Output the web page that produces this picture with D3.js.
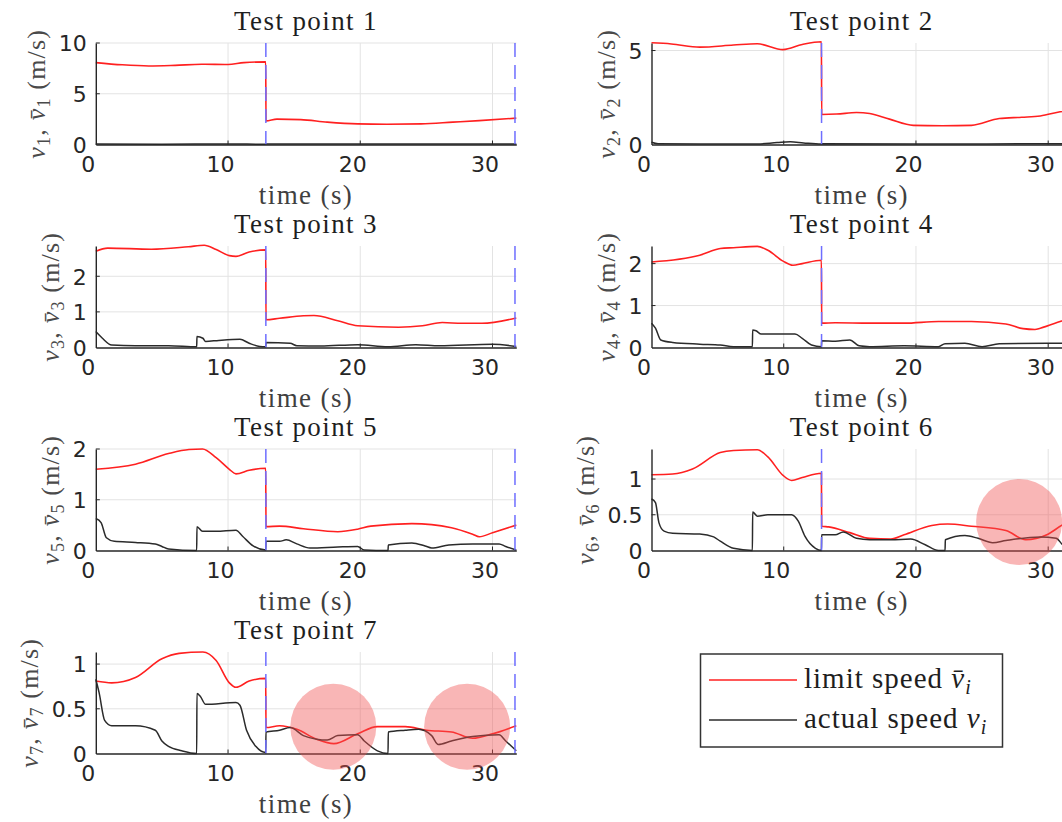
<!DOCTYPE html>
<html>
<head>
<meta charset="utf-8">
<script src="https://cdn.jsdelivr.net/npm/d3@7"></script>
<style>
  body { margin: 0; background: #fff; }
  svg { display: block; }
</style>
</head>
<body>
<svg id="fig" width="1062" height="822"></svg>
<script>
// ---- data -------------------------------------------------------------
const timeTicks = [0, 10, 20, 30];
const timeEnd = 31.8;
const switchTimes = [12.86, 31.7];

const panelTitles = ["Test point 1", "Test point 2", "Test point 3", "Test point 4",
                     "Test point 5", "Test point 6", "Test point 7"];
const panelIndex = ["1", "2", "3", "4", "5", "6", "7"];
const yMax = [10, 5.4, 2.85, 2.42, 2.0, 1.42, 1.135];

const yTicks1 = [0, 5, 10];
const yTicks2 = [0, 5];
const yTicks3 = [0, 1, 2];
const yTicks4 = [0, 1, 2];
const yTicks5 = [0, 1, 2];
const yTicks6 = [0, 0.5, 1];
const yTicks7 = [0, 0.5, 1];

// limit speed (red) and actual speed (black) as [time, speed] pairs
const limit1 = [[0,8.07],[2,7.85],[4,7.74],[6,7.8],[8,7.9],[10,7.88],[11.2,8.07],[12.85,8.14],
  [12.87,2.33],[13.7,2.5],[15.5,2.45],[17.5,2.2],[19.8,2.03],[22,2.0],[24.6,2.03],[27,2.2],[29,2.35],[31.8,2.6]];
const actual1 = [[0,0.05],[5,0.03],[10,0.05],[12.85,0.03],[12.87,0.05],[20,0.04],[31.8,0.05]];

const limit2 = [[0,5.41],[1.5,5.35],[3.65,5.18],[6.2,5.29],[8.0,5.36],[9.95,5.05],[11.4,5.32],[12.85,5.47],
  [12.87,1.6],[14,1.62],[15.5,1.7],[16.5,1.65],[18,1.35],[19.8,1.02],[22,1.0],[24.2,1.02],[26.3,1.38],
  [28,1.45],[29.4,1.52],[30.9,1.74],[31.8,1.85]];
const actual2 = [[0,0.12],[0.5,0.04],[5,0.02],[8,0.03],[9.5,0.1],[10.5,0.14],[11.5,0.08],[12.85,0.02],
  [12.87,0.04],[20,0.03],[31.8,0.04]];

const limit3 = [[0,2.70],[0.9,2.79],[4.2,2.76],[7.0,2.83],[8.2,2.87],[9.1,2.75],[10.1,2.58],[10.6,2.56],
  [11.6,2.68],[12.85,2.74],[12.87,0.78],[13.9,0.82],[15.7,0.89],[16.5,0.9],[18.3,0.75],[19.8,0.61],
  [22.9,0.57],[24.7,0.61],[26.2,0.70],[27.7,0.68],[29.2,0.68],[31.8,0.83]];
const actual3 = [[0,0.45],[0.5,0.26],[1.2,0.07],[3,0.05],[5.5,0.05],[7.63,0.02],[7.65,0.31],[8.1,0.26],
  [8.3,0.17],[9.3,0.2],[10.9,0.23],[11.6,0.12],[12.4,0.03],[12.85,0.02],[12.87,0.14],[14.7,0.12],
  [15.2,0.05],[17,0.04],[19.8,0.08],[22.1,0.02],[24.2,0.08],[26,0.05],[30,0.09],[31.8,0.03]];

const limit4 = [[0,2.04],[3.65,2.20],[5.2,2.36],[6.2,2.38],[8.0,2.41],[8.8,2.32],[9.95,2.06],[10.7,1.96],
  [11.4,2.0],[12.85,2.08],[12.87,0.58],[13.9,0.59],[16.5,0.58],[19.1,0.58],[21.7,0.62],[24.2,0.62],
  [26.8,0.56],[28.1,0.45],[29.0,0.43],[29.4,0.46],[30.9,0.62],[31.8,0.72]];
const actual4 = [[0,0.58],[0.3,0.46],[0.7,0.18],[1.6,0.12],[3.65,0.08],[5.2,0.06],[6.2,0.02],[7.63,0.02],
  [7.65,0.42],[7.9,0.40],[8.3,0.32],[9.3,0.32],[10.85,0.32],[11.4,0.22],[12.1,0.06],[12.85,0.02],
  [12.87,0.16],[13.9,0.15],[15,0.18],[15.7,0.04],[16.5,0.02],[19.1,0.04],[21.7,0.02],[22.2,0.09],
  [23.7,0.1],[25,0.02],[26.3,0.09],[29.9,0.1],[31.8,0.1]];

const limit5 = [[0,1.6],[3,1.7],[5.5,1.91],[7.05,1.99],[8.07,2.0],[9.1,1.83],[10.1,1.6],[10.6,1.51],
  [11.6,1.58],[12.85,1.62],[12.87,0.47],[13.9,0.48],[15.7,0.43],[18.3,0.37],[19.8,0.42],[20.8,0.48],
  [23.9,0.53],[26.9,0.45],[28.5,0.32],[29,0.27],[30,0.35],[31.8,0.50]];
const actual5 = [[0,0.63],[0.4,0.55],[0.8,0.25],[1.4,0.18],[3,0.16],[4.5,0.13],[5,0.08],[5.5,0.03],
  [7.63,0],[7.65,0.47],[8.07,0.38],[9.1,0.38],[10.6,0.40],[11.1,0.28],[11.9,0.09],[12.85,0.01],
  [12.87,0.18],[13.9,0.18],[14.4,0.21],[15.2,0.13],[16.2,0.05],[18.3,0.07],[19.8,0.08],[20.3,0.01],
  [22.1,0],[22.12,0.11],[23.9,0.15],[24.9,0.09],[25.4,0.05],[26.7,0.11],[28.5,0.13],[30.5,0.13],
  [31,0.08],[31.8,0.01]];

const limit6 = [[0,1.06],[1.6,1.07],[3.1,1.14],[5.2,1.37],[6.2,1.40],[8.0,1.41],[8.8,1.31],[9.95,1.05],
  [10.6,0.98],[11.4,1.02],[12.85,1.08],[12.87,0.34],[13.4,0.33],[15.0,0.25],[16.5,0.17],[18.1,0.16],
  [19.1,0.22],[21.2,0.35],[22.4,0.37],[24.2,0.34],[26.8,0.28],[28.3,0.15],[29.9,0.22],[31.1,0.36],[31.8,0.42]];
const actual6 = [[0,0.72],[0.3,0.67],[0.56,0.39],[0.95,0.27],[1.6,0.24],[3.65,0.23],[4.7,0.19],[5.2,0.13],
  [6.2,0.03],[7.63,0],[7.65,0.54],[8.0,0.48],[8.8,0.50],[10.6,0.50],[11.1,0.41],[11.6,0.20],[12.4,0.03],
  [12.85,0],[12.87,0.22],[13.9,0.22],[14.5,0.26],[15.5,0.17],[16.5,0.15],[18.1,0.15],[19.6,0.16],
  [20.7,0.08],[21.7,0],[22.2,0],[22.22,0.15],[23.7,0.21],[24.7,0.17],[25.8,0.11],[26.8,0.14],
  [29.4,0.19],[30.6,0.17],[31.1,0.08],[31.8,0.02]];

const limit7 = [[0,0.81],[1.2,0.79],[3.0,0.85],[5.0,1.06],[6.3,1.12],[8.1,1.135],[9.1,1.04],[10.1,0.79],
  [10.6,0.74],[11.6,0.81],[12.85,0.84],[12.87,0.29],[13.9,0.31],[15.2,0.27],[16.7,0.16],[18.0,0.11],
  [19.8,0.22],[21.3,0.30],[23.4,0.30],[25.0,0.26],[26.9,0.24],[28.5,0.17],[30,0.22],[31.8,0.31]];
const actual7 = [[0,0.83],[0.25,0.68],[0.67,0.37],[1.2,0.31],[3.0,0.31],[4.5,0.26],[5.0,0.14],[5.5,0.08],
  [6.5,0.03],[7.63,0],[7.65,0.67],[7.9,0.64],[8.3,0.55],[10.6,0.57],[10.9,0.54],[11.4,0.26],[12.1,0.08],
  [12.85,0.01],[12.87,0.24],[13.9,0.26],[14.7,0.29],[15.7,0.20],[16.7,0.16],[17.5,0.15],[18.3,0.20],
  [19.8,0.21],[20.3,0.14],[21.3,0.03],[22.1,0],[22.12,0.24],[23.4,0.26],[24.4,0.27],[25.4,0.20],
  [25.9,0.10],[26.9,0.14],[28.5,0.19],[30.5,0.21],[31,0.14],[31.8,0.03]];

// highlighted regions (time, speed) per panel
const highlights6 = [[27.8, 0.40]];
const highlights7 = [[17.96, 0.30], [28.08, 0.30]];

const limits = [limit1, limit2, limit3, limit4, limit5, limit6, limit7];
const actuals = [actual1, actual2, actual3, actual4, actual5, actual6, actual7];
const yTicks = [yTicks1, yTicks2, yTicks3, yTicks4, yTicks5, yTicks6, yTicks7];
const highlights = [[], [], [], [], [], highlights6, highlights7];

// ---- layout -----------------------------------------------------------
const colLeft = [95.8, 651.5];
const plotW = 420.5;
const plotH = 101.5;
const rowTop0 = 43, rowStep = 203;

const serif = "'Liberation Serif', 'Times New Roman', serif";
const sans = "'DejaVu Sans', sans-serif";
const RED = "#ff2020", BLACK = "#2b2b2b", BLUE = "#6e6eff";

const svg = d3.select("#fig");

panelTitles.forEach((title, i) => {
  const left = colLeft[i % 2];
  const top = rowTop0 + Math.floor(i / 2) * rowStep;
  const x = d3.scaleLinear().domain([0, timeEnd]).range([left, left + plotW]);
  const y = d3.scaleLinear().domain([0, yMax[i]]).range([top + plotH, top]);
  const g = svg.append("g");

  // grid
  g.append("g").selectAll("line").data(timeTicks.filter(t => t > 0)).join("line")
    .attr("x1", d => x(d)).attr("x2", d => x(d)).attr("y1", y(0)).attr("y2", top)
    .attr("stroke", "#e3e3e3").attr("stroke-width", 1);
  g.append("g").selectAll("line").data(yTicks[i].filter(v => v > 0)).join("line")
    .attr("x1", left).attr("x2", left + plotW).attr("y1", d => y(d)).attr("y2", d => y(d))
    .attr("stroke", "#e3e3e3").attr("stroke-width", 1);

  const line = d3.line().x(d => x(d[0])).y(d => y(d[1])).curve(d3.curveMonotoneX);

  g.append("path").datum(limits[i]).attr("d", line)
    .attr("fill", "none").attr("stroke", RED).attr("stroke-width", 1.6);
  g.append("path").datum(actuals[i]).attr("d", line)
    .attr("fill", "none").attr("stroke", BLACK).attr("stroke-width", 1.5);

  // segment boundaries
  g.append("g").selectAll("line").data(switchTimes).join("line")
    .attr("x1", d => x(d)).attr("x2", d => x(d)).attr("y1", top).attr("y2", y(0))
    .attr("stroke", BLUE).attr("stroke-width", 1.5).attr("stroke-dasharray", "14,8");

  // axes (left and bottom only)
  const xAxis = d3.axisBottom(x).tickValues(timeTicks).tickSize(0).tickFormat(d3.format("d"));
  const ax = g.append("g").attr("transform", `translate(0,${y(0)})`).call(xAxis);
  ax.select(".domain").attr("stroke", "#262626").attr("stroke-width", 1.4);
  ax.selectAll(".tick text").attr("font-family", sans).attr("font-size", 22)
    .attr("fill", "#262626").attr("y", 0).attr("dy", 27).attr("dx", -8);

  const yAxis = d3.axisLeft(y).tickValues(yTicks[i]).tickSize(0).tickFormat(d3.format("~g"));
  const ay = g.append("g").attr("transform", `translate(${left},0)`).call(yAxis);
  ay.select(".domain").attr("stroke", "#262626").attr("stroke-width", 1.4);
  ay.selectAll(".tick text").attr("font-family", sans).attr("font-size", 22)
    .attr("fill", "#262626").attr("x", -9).attr("dy", "0.36em");

  // inward tick marks
  g.append("g").selectAll("line").data(timeTicks.filter(t => t > 0)).join("line")
    .attr("x1", d => x(d)).attr("x2", d => x(d)).attr("y1", y(0)).attr("y2", y(0) - 4)
    .attr("stroke", "#262626").attr("stroke-width", 1);
  g.append("g").selectAll("line").data(yTicks[i].filter(v => v > 0)).join("line")
    .attr("x1", left).attr("x2", left + 4).attr("y1", d => y(d)).attr("y2", d => y(d))
    .attr("stroke", "#262626").attr("stroke-width", 1);

  // title and axis labels
  const cx = left + plotW / 2;
  g.append("text").attr("x", cx).attr("y", top - 13).attr("text-anchor", "middle")
    .attr("font-family", serif).attr("font-size", 27).attr("letter-spacing", 1.4)
    .attr("fill", "#1e1e1e").text(title);
  g.append("text").attr("x", cx).attr("y", y(0) + 59).attr("text-anchor", "middle")
    .attr("font-family", serif).attr("font-size", 27).attr("letter-spacing", 1.4)
    .attr("fill", "#404040").text("time (s)");

  const tickLeft = ay.node().getBBox().x + left;
  const ly = g.append("text")
    .attr("transform", `translate(${tickLeft - 14},${(top + y(0)) / 2}) rotate(-90)`)
    .attr("text-anchor", "middle").attr("font-family", serif).attr("font-size", 26)
    .attr("letter-spacing", 1.2).attr("fill", "#4a4a4a");
  ly.append("tspan").attr("font-style", "italic").text("v");
  ly.append("tspan").attr("font-size", 18).attr("dy", 5).text(panelIndex[i]);
  ly.append("tspan").attr("dy", -5).text(",\u00a0");
  ly.append("tspan").attr("font-style", "italic").text("v\u0304");
  ly.append("tspan").attr("font-size", 18).attr("dy", 5).text(panelIndex[i]);
  ly.append("tspan").attr("dy", -5).text("\u00a0(m/s)");

  // highlighted regions
  g.append("g").selectAll("circle").data(highlights[i]).join("circle")
    .attr("cx", d => x(d[0])).attr("cy", d => y(d[1])).attr("r", 43)
    .attr("fill", "rgb(240,80,80)").attr("fill-opacity", 0.42);
});

// ---- legend -----------------------------------------------------------
const legendItems = [
  { label: "limit speed ", sym: "v\u0304", color: RED },
  { label: "actual speed ", sym: "v", color: BLACK }
];
const lg = svg.append("g");
lg.append("rect").attr("x", 700.5).attr("y", 654).attr("width", 302).attr("height", 93)
  .attr("fill", "#fff").attr("stroke", "#333").attr("stroke-width", 1.5);
legendItems.forEach((it, k) => {
  const cy = 680 + k * 40;
  lg.append("line").attr("x1", 709).attr("x2", 797).attr("y1", cy).attr("y2", cy)
    .attr("stroke", it.color).attr("stroke-width", 1.6);
  const t = lg.append("text").attr("x", 804).attr("y", cy + 7.5)
    .attr("font-family", serif).attr("font-size", 29).attr("letter-spacing", 1)
    .attr("fill", "#1e1e1e");
  t.append("tspan").text(it.label);
  t.append("tspan").attr("font-style", "italic").text(it.sym);
  t.append("tspan").attr("font-style", "italic").attr("font-size", 20).attr("dy", 6).text("i");
});
</script>
</body>
</html>
